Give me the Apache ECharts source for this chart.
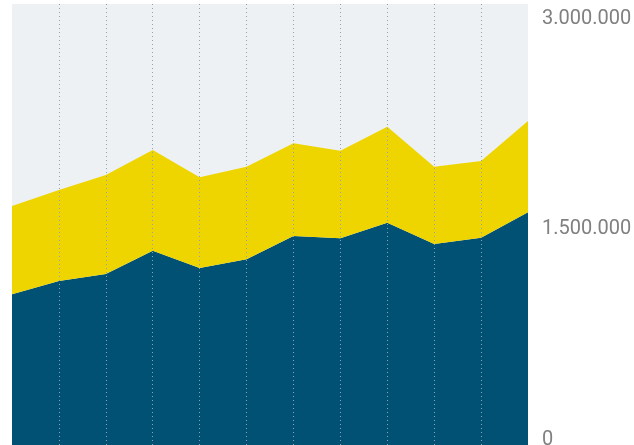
<!DOCTYPE html>
<html>
<head>
<meta charset="utf-8">
<script src="https://cdn.jsdelivr.net/npm/echarts@6/dist/echarts.min.js"></script>
<style>
html,body{margin:0;padding:0;background:#ffffff;}
#chart{width:634px;height:445px;}
</style>
</head>
<body>
<div id="chart"></div>
<script>
var categories = ['1','2','3','4','5','6','7','8','9','10','11','12'];
var seriesBlue = [1025000, 1116000, 1163000, 1322000, 1204000, 1263000, 1422000, 1406000, 1512000, 1367000, 1410000, 1583000];
var seriesYellow = [601000, 619000, 674000, 685000, 617000, 630000, 630000, 596000, 653000, 526000, 522000, 621000];
var yTicks = [0, 1500000, 3000000];

function fmt(v){
  return String(v).replace(/\B(?=(\d{3})+(?!\d))/g, '.');
}

var labelStyle = {color: '#808080', fontSize: 20, fontWeight: 'normal', fontFamily: 'Roboto'};

var chart = echarts.init(document.getElementById('chart'), null, {renderer:'canvas'});
chart.setOption({
  animation: false,
  grid: {left: 12, right: 106, top: 4, bottom: 0, show: true, backgroundColor: '#edf1f4', borderWidth: 0,
         containLabel: false, outerBoundsMode: 'none'},
  xAxis: {
    type: 'category',
    data: categories,
    boundaryGap: false,
    z: 5,
    axisLine: {show: false},
    axisTick: {show: false},
    axisLabel: {show: false},
    splitLine: {
      show: true,
      interval: function (i) { return i > 0 && i < categories.length - 1; },
      lineStyle: {color: '#8da2b3', width: 1, type: [1, 3]}
    }
  },
  yAxis: {
    type: 'value',
    position: 'right',
    min: yTicks[0],
    max: yTicks[2],
    interval: yTicks[1] - yTicks[0],
    axisLine: {show: false},
    axisTick: {show: false},
    splitLine: {show: false},
    axisLabel: {
      formatter: function (v) {
        var k = v === yTicks[0] ? 'b' : (v === yTicks[2] ? 't' : 'm');
        return '{' + k + '|' + fmt(v) + '}';
      },
      margin: 14,
      rich: {
        t: Object.assign({padding: [30, 0, 0, 0]}, labelStyle),
        m: Object.assign({padding: [8, 0, 0, 0]}, labelStyle),
        b: Object.assign({padding: [0, 0, 11, 0]}, labelStyle)
      }
    }
  },
  series: [
    {
      type: 'line',
      stack: 'total',
      data: seriesBlue,
      symbol: 'none',
      lineStyle: {width: 0},
      areaStyle: {color: '#015174', opacity: 1},
      itemStyle: {color: '#015174'}
    },
    {
      type: 'line',
      stack: 'total',
      data: seriesYellow,
      symbol: 'none',
      lineStyle: {width: 0},
      areaStyle: {color: '#efd500', opacity: 1},
      itemStyle: {color: '#efd500'}
    }
  ]
});
</script>
</body>
</html>
